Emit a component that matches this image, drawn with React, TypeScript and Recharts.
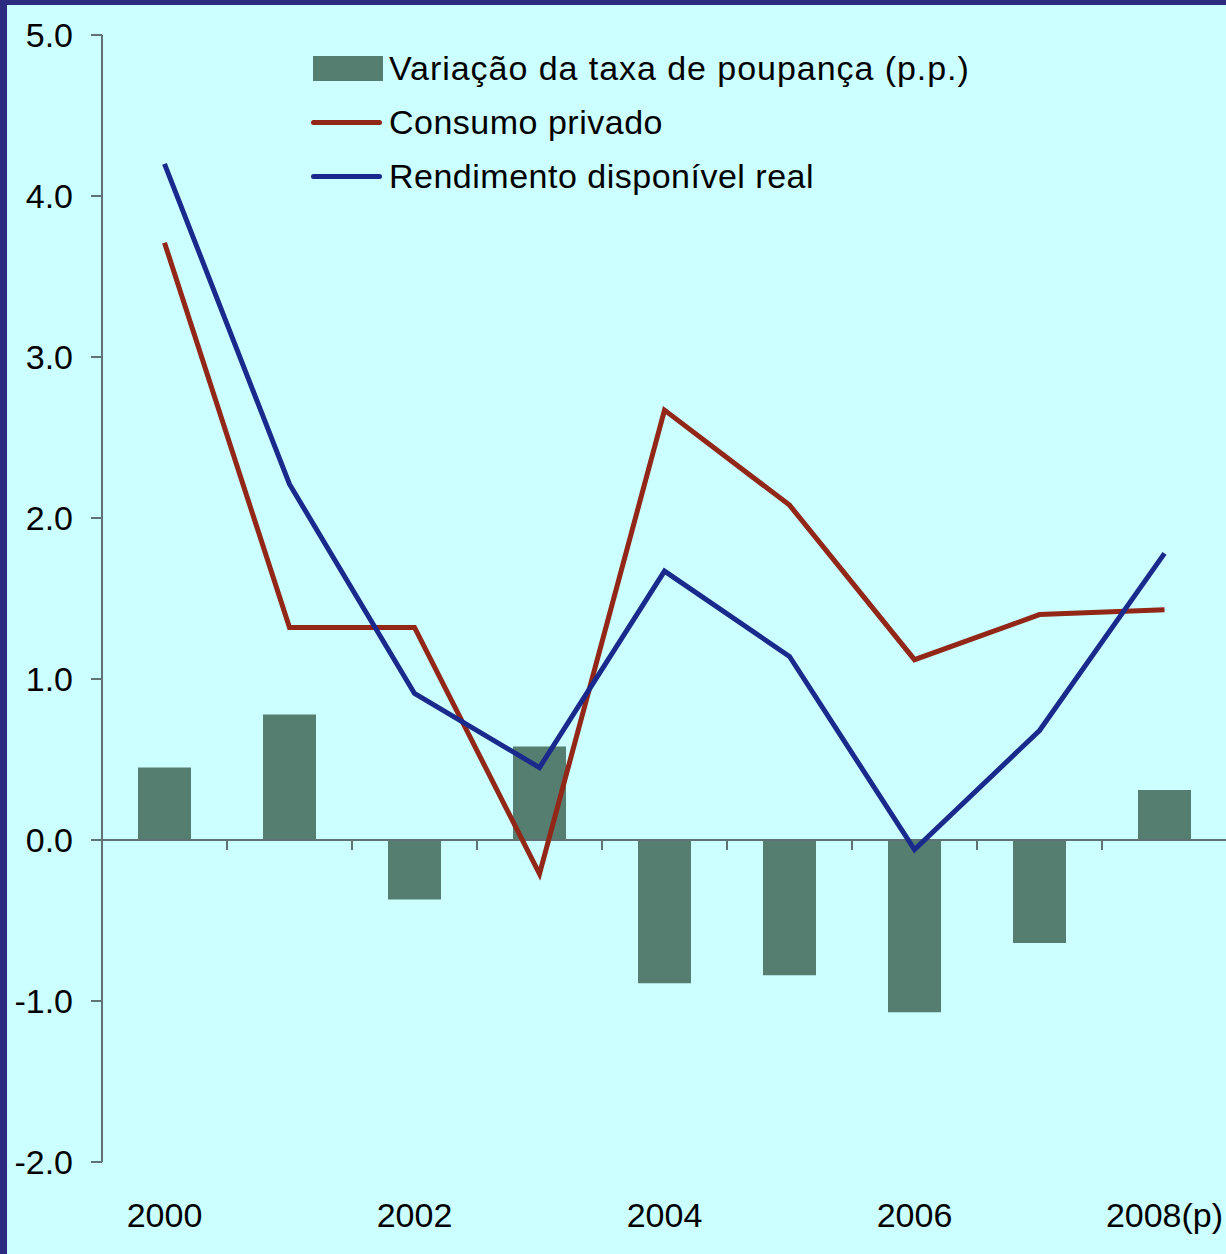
import { ComposedChart, Bar, Line, XAxis, YAxis, ReferenceLine, Legend } from 'recharts';

const years = ['2000', '2001', '2002', '2003', '2004', '2005', '2006', '2007', '2008(p)'];
const poupanca = [0.45, 0.78, -0.37, 0.58, -0.89, -0.84, -1.07, -0.64, 0.31];
const consumo = [3.71, 1.32, 1.32, -0.21, 2.67, 2.08, 1.12, 1.40, 1.43];
const rendimento = [4.2, 2.21, 0.91, 0.45, 1.67, 1.14, -0.06, 0.68, 1.78];
const yTicks = [-2, -1, 0, 1, 2, 3, 4, 5];

const data = years.map((year, i) => ({
  year,
  poupanca: poupanca[i],
  consumo: consumo[i],
  rendimento: rendimento[i],
}));

const FONT = '"Liberation Sans", Arial, sans-serif';
const CHART_W = 1220;
const CHART_H = 1249;
const MARGIN = { top: 30, right: 0, bottom: 32, left: 0 };
const Y_AXIS_W = 95;
const X_AXIS_H = 60;
const PLOT_W = CHART_W - MARGIN.left - MARGIN.right - Y_AXIS_W;
const PLOT_H = CHART_H - MARGIN.top - MARGIN.bottom - X_AXIS_H;
const Y_MIN = -2;
const Y_MAX = 5;
const ZERO_Y = MARGIN.top + (PLOT_H * Y_MAX) / (Y_MAX - Y_MIN);
const BAND = PLOT_W / years.length;

const AXIS_COLOR = '#5f7373';
const BAR_COLOR = '#567e70';
const RED = '#922617';
const BLUE = '#1a2a8c';

function XTick(props: any) {
  const { x, y, payload, index } = props;
  const edge = x + BAND / 2;
  return (
    <g>
      <line x1={edge} x2={edge} y1={ZERO_Y} y2={ZERO_Y + 10} stroke={AXIS_COLOR} strokeWidth={2} />
      {index % 2 === 0 && (
        <text x={x} y={y + 65} textAnchor="middle" fill="#000" fontSize={34} fontFamily={FONT}>
          {payload.value}
        </text>
      )}
    </g>
  );
}

function LegendBox() {
  const rows = [
    { label: 'Variação da taxa de poupança (p.p.)', type: 'bar', color: BAR_COLOR, ls: 0.95 },
    { label: 'Consumo privado', type: 'line', color: RED, ls: 0.5 },
    { label: 'Rendimento disponível real', type: 'line', color: BLUE, ls: 0.5 },
  ];
  return (
    <div style={{ fontFamily: FONT, fontSize: 34, color: '#000' }}>
      {rows.map((r) => (
        <div key={r.label} style={{ display: 'flex', alignItems: 'center', height: 54 }}>
          {r.type === 'bar' ? (
            <div style={{ width: 70, height: 25, background: r.color, marginLeft: 2, marginRight: 6 }} />
          ) : (
            <div style={{ width: 71, height: 5, borderRadius: 2.5, background: r.color, marginRight: 7 }} />
          )}
          <span style={{ whiteSpace: 'nowrap', letterSpacing: r.ls }}>{r.label}</span>
        </div>
      ))}
    </div>
  );
}

export default function App() {
  return (
    <div
      style={{
        position: 'absolute',
        top: 0,
        left: 0,
        width: 1226,
        height: 1254,
        overflow: 'hidden',
        background: '#2b2b80',
      }}
    >
      <div
        style={{
          position: 'absolute',
          top: 5,
          left: 7,
          width: 1219,
          height: 1249,
          overflow: 'hidden',
          background: '#ccffff',
        }}
      >
        <ComposedChart width={CHART_W} height={CHART_H} data={data} margin={MARGIN}>
          <XAxis
            dataKey="year"
            height={X_AXIS_H}
            interval={0}
            axisLine={false}
            tickLine={false}
            tickSize={0}
            tickMargin={0}
            tick={<XTick />}
          />
          <YAxis
            width={Y_AXIS_W}
            domain={[Y_MIN, Y_MAX]}
            ticks={yTicks}
            allowDataOverflow
            tickFormatter={(v: number) => v.toFixed(1)}
            tick={{ fill: '#000', fontSize: 34, fontFamily: FONT }}
            axisLine={{ stroke: AXIS_COLOR, strokeWidth: 2 }}
            tickLine={{ stroke: AXIS_COLOR, strokeWidth: 2 }}
            tickSize={11}
            tickMargin={18}
          />
          <Legend
            layout="horizontal"
            verticalAlign="middle"
            align="center"
            wrapperStyle={{ top: 36, left: 304, width: 'auto' }}
            content={<LegendBox />}
          />
          <Bar dataKey="poupanca" fill={BAR_COLOR} barSize={53} isAnimationActive={false} />
          <ReferenceLine y={0} stroke={AXIS_COLOR} strokeWidth={2} />
          <Line
            type="linear"
            dataKey="consumo"
            stroke={RED}
            strokeWidth={5}
            dot={false}
            isAnimationActive={false}
          />
          <Line
            type="linear"
            dataKey="rendimento"
            stroke={BLUE}
            strokeWidth={5}
            dot={false}
            isAnimationActive={false}
          />
        </ComposedChart>
      </div>
    </div>
  );
}
